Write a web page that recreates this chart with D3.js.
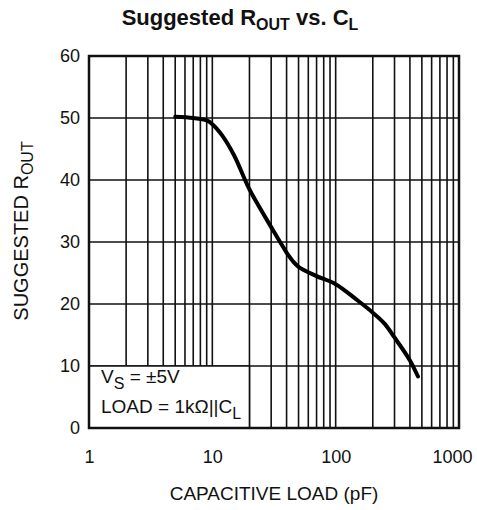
<!DOCTYPE html>
<html><head><meta charset="utf-8">
<script src="https://cdn.jsdelivr.net/npm/d3@7"></script>
<style>body{margin:0;background:#fff}text{font-family:"Liberation Sans",Arial,sans-serif;fill:#111}</style>
</head><body>
<svg id="c" width="477" height="510"></svg>
<script>
const capLoad = [5, 7, 9, 10, 12, 15, 20, 30, 40, 45, 50, 70, 100, 150, 200, 250, 300, 400, 465];
const rOut    = [50.2, 50.0, 49.6, 49.0, 47.2, 44.0, 38.5, 32.4, 28.3, 26.9, 26.0, 24.5, 23.2, 20.6, 18.6, 16.8, 14.6, 10.9, 8.3];
const xTicks = [1, 10, 100, 1000];
const yTicks = [0, 10, 20, 30, 40, 50, 60];

const svg = d3.select("#c");
const L = 89, R = 459, T = 56, B = 428;
const x = d3.scaleLog().domain([1, 1000]).range([L, R]);
const y = d3.scaleLinear().domain([0, 60]).range([B, T]);

// minor/major vertical grid
const vgrid = [];
for (let d = 1; d <= 100; d *= 10) for (let k = 1; k <= 9; k++) { const v = d * k; if (v > 1) vgrid.push(v); }
const g = svg.append("g");
g.selectAll(".v").data(vgrid).enter().append("line")
  .attr("x1", d => x(d)).attr("x2", d => x(d)).attr("y1", T).attr("y2", B)
  .attr("stroke", "#111").attr("stroke-width", 1.6);
g.selectAll(".h").data(yTicks.slice(1, -1)).enter().append("line")
  .attr("x1", L).attr("x2", R).attr("y1", d => y(d)).attr("y2", d => y(d))
  .attr("stroke", "#111").attr("stroke-width", 1.6);

// legend box (white) covering grid
svg.append("rect").attr("x", L).attr("y", y(10)).attr("width", x(20) - L).attr("height", B - y(10)).attr("fill", "#fff");
svg.append("line").attr("x1", L).attr("x2", x(20)).attr("y1", y(10)).attr("y2", y(10)).attr("stroke", "#111").attr("stroke-width", 1.6);
svg.append("line").attr("x1", x(20)).attr("x2", x(20)).attr("y1", y(10)).attr("y2", B).attr("stroke", "#111").attr("stroke-width", 1.6);

// frame
svg.append("rect").attr("x", L).attr("y", T).attr("width", R - L).attr("height", B - T)
  .attr("fill", "none").attr("stroke", "#111").attr("stroke-width", 2.5);

// curve
const pts = capLoad.map((c, i) => [c, rOut[i]]);
svg.append("path").datum(pts)
  .attr("d", d3.line().x(d => x(d[0])).y(d => y(d[1])).curve(d3.curveCatmullRom))
  .attr("fill", "none").attr("stroke", "#000").attr("stroke-width", 4).attr("stroke-linecap", "round");

// axes
const xa = svg.append("g").attr("transform", `translate(0,${B})`)
  .call(d3.axisBottom(x).tickValues(xTicks).tickFormat(d3.format("d")).tickSize(0).tickPadding(22));
xa.select(".domain").remove();
xa.selectAll("text").style("font-size", "18px").attr("dx", d => d === 1000 ? "-7" : "0");
const ya = svg.append("g").attr("transform", `translate(${L},0)`)
  .call(d3.axisLeft(y).tickValues(yTicks).tickSize(0).tickPadding(9));
ya.select(".domain").remove();
ya.selectAll("text").style("font-size", "18px");

// titles
const t = svg.append("text").attr("x", 240).attr("y", 25).attr("text-anchor", "middle")
  .style("font-size", "22px").style("font-weight", "bold");
t.append("tspan").text("Suggested R");
t.append("tspan").text("OUT").attr("dy", 5).style("font-size", "16px");
t.append("tspan").text(" vs. C").attr("dy", -5);
t.append("tspan").text("L").attr("dy", 5).style("font-size", "16px");

svg.append("text").attr("x", 274).attr("y", 500).attr("text-anchor", "middle")
  .style("font-size", "19px").text("CAPACITIVE LOAD (pF)");

const yt = svg.append("text").attr("transform", "translate(28,231) rotate(-90)").attr("text-anchor", "middle")
  .style("font-size", "20px");
yt.append("tspan").text("SUGGESTED R");
yt.append("tspan").text("OUT").attr("dy", 5).style("font-size", "16px");

// legend text
const l1 = svg.append("text").attr("x", 101).attr("y", 383).style("font-size", "19px");
l1.append("tspan").text("V");
l1.append("tspan").text("S").attr("dy", 6).style("font-size", "16px");
l1.append("tspan").text(" = ±5V").attr("dy", -6);
const l2 = svg.append("text").attr("x", 101).attr("y", 413).style("font-size", "19px");
l2.append("tspan").text("LOAD = 1kΩ||C");
l2.append("tspan").text("L").attr("dy", 6).style("font-size", "16px");
</script>
</body></html>
